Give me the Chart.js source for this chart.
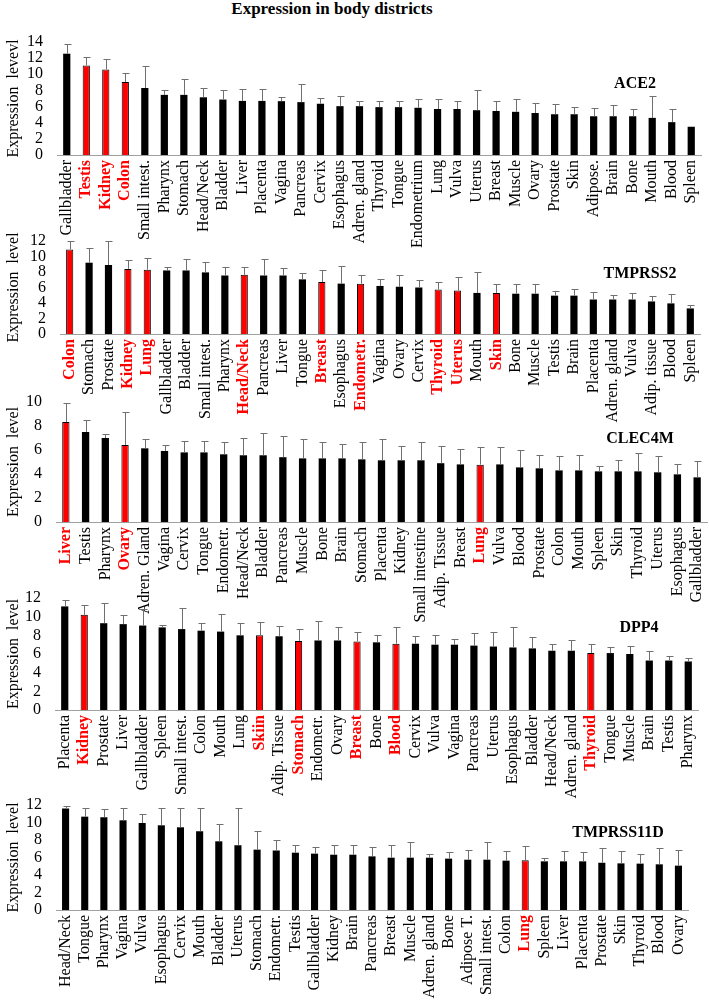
<!DOCTYPE html>
<html>
<head>
<meta charset="utf-8">
<script src="https://cdn.jsdelivr.net/npm/chart.js@4.4.1/dist/chart.umd.min.js"></script>
<style>
body { margin: 0; background: #fff; }
#wrap { position: relative; width: 709px; height: 1000px; font-family: 'Liberation Serif', serif; }
canvas { position: absolute; left: 0; }
.gene { position: absolute; font-weight: bold; font-size: 16px; transform: translate(-50%, -50%); white-space: nowrap; }
#title { position: absolute; left: 332px; top: 9px; font-weight: bold; font-size: 17px; transform: translate(-50%, -50%); white-space: nowrap; }
</style>
</head>
<body>
<div id="wrap">
  <div id="title">Expression in body districts</div>
</div>
<script>
// ACE2
const ace2Labels = ['Gallbladder', 'Testis', 'Kidney', 'Colon', 'Small intest.', 'Pharynx', 'Stomach', 'Head/Neck', 'Bladder', 'Liver', 'Placenta', 'Vagina', 'Pancreas', 'Cervix', 'Esophagus', 'Adren. gland', 'Thyroid', 'Tongue', 'Endometrium', 'Lung', 'Vulva', 'Uterus', 'Breast', 'Muscle', 'Ovary', 'Prostate', 'Skin', 'Adipose.', 'Brain', 'Bone', 'Mouth', 'Blood', 'Spleen'];
const ace2Values = [12.55, 11.1, 10.6, 9.05, 8.3, 7.45, 7.45, 7.15, 6.87, 6.7, 6.7, 6.67, 6.55, 6.35, 6.05, 6.05, 5.93, 5.93, 5.85, 5.7, 5.7, 5.55, 5.45, 5.35, 5.2, 5.05, 5.05, 4.8, 4.8, 4.8, 4.6, 4.07, 3.5];
const ace2Upper = [13.8, 12.2, 11.85, 10.15, 11.0, 8.0, 9.4, 8.25, 8.0, 8.15, 8.15, 7.15, 8.75, 7.1, 7.3, 6.7, 6.7, 6.7, 6.9, 6.9, 6.7, 8.0, 6.7, 6.9, 6.5, 6.3, 6.0, 5.8, 6.15, 5.7, 7.25, 5.7, null];
const ace2Red = ['Testis', 'Kidney', 'Colon'];

// TMPRSS2
const tmprss2Labels = ['Colon', 'Stomach', 'Prostate', 'Kidney', 'Lung', 'Gallbladder', 'Bladder', 'Small intest.', 'Pharynx', 'Head/Neck', 'Pancreas', 'Liver', 'Tongue', 'Breast', 'Esophagus', 'Endometr.', 'Vagina', 'Ovary', 'Cervix', 'Thyroid', 'Uterus', 'Mouth', 'Skin', 'Bone', 'Muscle', 'Testis', 'Brain', 'Placenta', 'Adren. gland', 'Vulva', 'Adip. tissue', 'Blood', 'Spleen'];
const tmprss2Values = [10.9, 9.2, 8.9, 8.4, 8.3, 8.2, 8.2, 7.95, 7.55, 7.65, 7.55, 7.55, 7.05, 6.7, 6.5, 6.5, 6.2, 6.1, 6.0, 5.75, 5.6, 5.3, 5.3, 5.2, 5.2, 4.95, 4.95, 4.45, 4.45, 4.45, 4.2, 3.95, 3.3];
const tmprss2Upper = [12.0, 11.1, 12.0, 9.55, 9.8, 8.7, 9.7, 9.3, 8.65, 8.65, 9.7, 8.5, 7.9, 8.25, 8.8, 7.6, 7.1, 7.6, 7.0, 6.75, 7.35, 7.95, 6.5, 6.5, 6.5, 5.6, 5.8, 5.45, 5.05, 5.3, 4.9, 5.2, 3.75];
const tmprss2Red = ['Colon', 'Kidney', 'Lung', 'Head/Neck', 'Breast', 'Endometr.', 'Thyroid', 'Uterus', 'Skin'];

// CLEC4M
const clec4mLabels = ['Liver', 'Testis', 'Pharynx', 'Ovary', 'Adren. Gland', 'Vagina', 'Cervix', 'Tongue', 'Endometr.', 'Head/Neck', 'Bladder', 'Pancreas', 'Muscle', 'Bone', 'Brain', 'Stomach', 'Placenta', 'Kidney', 'Small intestine', 'Adip. Tissue', 'Breast', 'Lung', 'Vulva', 'Blood', 'Prostate', 'Colon', 'Mouth', 'Spleen', 'Skin', 'Thyroid', 'Uterus', 'Esophagus', 'Gallbladder'];
const clec4mValues = [8.33, 7.5, 7.0, 6.42, 6.14, 5.92, 5.8, 5.8, 5.64, 5.56, 5.56, 5.4, 5.3, 5.3, 5.3, 5.22, 5.14, 5.14, 5.14, 4.9, 4.8, 4.78, 4.8, 4.55, 4.47, 4.3, 4.3, 4.22, 4.22, 4.22, 4.14, 3.97, 3.72];
const clec4mUpper = [9.9, 8.5, 7.3, 9.2, 6.9, 6.4, 6.72, 6.72, 6.64, 6.97, 7.4, 7.14, 6.9, 6.64, 6.47, 6.64, 6.9, 6.3, 6.64, 6.3, 6.05, 6.22, 6.22, 5.97, 5.56, 5.47, 5.56, 4.64, 5.14, 5.72, 5.47, 4.8, 5.05];
const clec4mRed = ['Liver', 'Ovary', 'Lung'];

// DPP4
const dpp4Labels = ['Placenta', 'Kidney', 'Prostate', 'Liver', 'Gallbladder', 'Spleen', 'Small intest.', 'Colon', 'Mouth', 'Lung', 'Skiin', 'Adip. Tissue', 'Stomach', 'Endometr.', 'Ovary', 'Breast', 'Bone', 'Blood', 'Cervix', 'Vulva', 'Vagina', 'Pancreas', 'Uterus', 'Esophagus', 'Bladder', 'Head/Neck', 'Adren. gland', 'Thyroid', 'Tongue', 'Muscle', 'Brain', 'Testis', 'Pharynx'];
const dpp4Values = [11.1, 10.2, 9.3, 9.2, 9.05, 8.85, 8.67, 8.5, 8.4, 8.0, 8.0, 7.9, 7.4, 7.45, 7.45, 7.35, 7.25, 7.1, 7.1, 7.0, 7.0, 6.9, 6.8, 6.7, 6.6, 6.35, 6.35, 6.1, 6.1, 6.0, 5.3, 5.3, 5.2];
const dpp4Upper = [11.8, 11.2, 11.5, 10.15, 10.8, 9.15, 10.9, 9.3, 10.3, 9.3, 9.4, 9.0, 8.65, 9.5, 8.85, 8.4, 8.05, 8.85, 7.9, 8.0, 7.65, 8.3, 8.4, 8.85, 7.8, 7.1, 7.45, 7.1, 6.8, 6.9, 6.35, 5.8, 5.6];
const dpp4Red = ['Kidney', 'Skiin', 'Stomach', 'Breast', 'Blood', 'Thyroid'];

// TMPRSS11D
const tmprss11dLabels = ['Head/Neck', 'Tongue', 'Pharynx', 'Vagina', 'Vulva', 'Esophagus', 'Cervix', 'Mouth', 'Bladder', 'Uterus', 'Stomach', 'Endometr.', 'Testis', 'Gallbladder', 'Kidney', 'Brain', 'Pancreas', 'Breast', 'Muscle', 'Adren. gland', 'Bone', 'Adipose T.', 'Small intest.', 'Colon', 'Lung', 'Spleen', 'Liver', 'Placenta', 'Prostate', 'Skin', 'Thyroid', 'Blood', 'Ovary'];
const tmprss11dValues = [11.6, 10.67, 10.6, 10.25, 9.94, 9.68, 9.45, 9.0, 7.85, 7.4, 6.9, 6.8, 6.55, 6.44, 6.32, 6.32, 6.13, 5.98, 5.98, 5.98, 5.87, 5.75, 5.75, 5.64, 5.7, 5.56, 5.56, 5.56, 5.4, 5.33, 5.3, 5.22, 5.07];
const tmprss11dUpper = [11.9, 11.7, 11.5, 11.7, 11.0, 11.7, 11.7, 11.7, 9.87, 11.7, 9.07, 7.95, 7.45, 7.24, 7.45, 7.45, 7.24, 7.43, 7.73, 6.44, 6.63, 6.9, 7.8, 6.78, 7.35, 5.98, 6.78, 6.63, 7.05, 6.7, 6.44, 7.05, 6.9];
const tmprss11dRed = ['Lung'];

const FONT = "'Liberation Serif', serif";
const RED = '#ff0000';
const PAD_TOP = 10; // room above the plot for the top tick label

Chart.defaults.font.family = FONT;
Chart.defaults.font.size = 16;
Chart.defaults.color = '#000';

// error bars: one-sided, drawn from bar top up to the upper value
const errorBars = {
    id: 'errorBars',
    afterDatasetsDraw(chart, args, opts) {
        const upper = opts.upper || [];
        const meta = chart.getDatasetMeta(0);
        const yScale = chart.scales.y;
        const ctx = chart.ctx;
        ctx.save();
        ctx.strokeStyle = '#707070';
        ctx.lineWidth = 1;
        meta.data.forEach((bar, i) => {
            if (upper[i] == null) return;
            const yHi = Math.round(yScale.getPixelForValue(upper[i])) + 0.5;
            const x = Math.round(bar.x) + 0.5;
            ctx.beginPath();
            ctx.moveTo(x, bar.y);
            ctx.lineTo(x, yHi);
            ctx.moveTo(x - 3, yHi);
            ctx.lineTo(x + 4, yHi);
            ctx.stroke();
        });
        ctx.restore();
    }
};

const panels = [
    { labels: ace2Labels, values: ace2Values, upper: ace2Upper, red: ace2Red, yMax: 14, top: 42, bottom: 155, left: 57, right: 701, labelH: 110, yTitle: 'Expression  levevl', gene: 'ACE2', gx: 635, gy: 83 },
    { labels: tmprss2Labels, values: tmprss2Values, upper: tmprss2Upper, red: tmprss2Red, yMax: 12, top: 241, bottom: 334, left: 60, right: 700, labelH: 112, yTitle: 'Expression  level', gene: 'TMPRSS2', gx: 640, gy: 273 },
    { labels: clec4mLabels, values: clec4mValues, upper: clec4mUpper, red: clec4mRed, yMax: 10, top: 402, bottom: 522, left: 56, right: 707, labelH: 120, yTitle: 'Expression  level', gene: 'CLEC4M', gx: 640, gy: 438 },
    { labels: dpp4Labels, values: dpp4Values, upper: dpp4Upper, red: dpp4Red, yMax: 12, top: 598, bottom: 710, left: 55, right: 698, labelH: 92, yTitle: 'Expression  level', gene: 'DPP4', gx: 639, gy: 627 },
    { labels: tmprss11dLabels, values: tmprss11dValues, upper: tmprss11dUpper, red: tmprss11dRed, yMax: 12, top: 805, bottom: 910, left: 56, right: 688, labelH: 90, yTitle: 'Expression  level', gene: 'TMPRSS11D', gx: 618, gy: 832 }
];

const wrap = document.getElementById('wrap');

panels.forEach(p => {
    const canvas = document.createElement('canvas');
    const h = PAD_TOP + (p.bottom - p.top) + p.labelH;
    canvas.width = 709;
    canvas.height = h;
    canvas.style.width = '709px';
    canvas.style.height = h + 'px';
    canvas.style.top = (p.top - PAD_TOP) + 'px';
    wrap.appendChild(canvas);

    const gene = document.createElement('div');
    gene.className = 'gene';
    gene.textContent = p.gene;
    gene.style.left = p.gx + 'px';
    gene.style.top = p.gy + 'px';
    wrap.appendChild(gene);

    const isRed = p.labels.map(l => p.red.includes(l));

    new Chart(canvas.getContext('2d'), {
        type: 'bar',
        data: {
            labels: p.labels,
            datasets: [{
                data: p.values,
                backgroundColor: isRed.map(r => r ? RED : '#000'),
                borderColor: '#000',
                borderWidth: isRed.map(r => r ? 1 : 0),
                barPercentage: 0.37,
                categoryPercentage: 1
            }]
        },
        options: {
            responsive: false,
            animation: false,
            devicePixelRatio: 1,
            layout: { padding: { top: PAD_TOP, left: 0, right: 709 - p.right, bottom: 0 } },
            plugins: {
                legend: { display: false },
                tooltip: { enabled: false },
                errorBars: { upper: p.upper }
            },
            scales: {
                x: {
                    grid: { display: false, drawTicks: false },
                    border: { display: true, color: '#a0a0a0' },
                    ticks: {
                        autoSkip: false,
                        minRotation: 90,
                        maxRotation: 90,
                        padding: 5,
                        color: ctx => isRed[ctx.index] ? RED : '#000',
                        font: ctx => ({ family: FONT, size: 16, weight: isRed[ctx.index] ? 'bold' : 'normal' })
                    },
                    afterFit: scale => {
                        scale.height = p.labelH;
                        scale.paddingLeft = 0;
                        scale.paddingRight = 0;
                    }
                },
                y: {
                    min: 0,
                    max: p.yMax,
                    grid: { display: false, drawTicks: false },
                    border: { display: false },
                    ticks: { autoSkip: false, stepSize: 2, padding: 14, color: '#000', font: { family: FONT, size: 16 } },
                    title: { display: true, text: p.yTitle, color: '#000', font: { family: FONT, size: 16 }, padding: { top: 4, bottom: 0 } },
                    afterFit: scale => {
                        scale.width = p.left;
                        scale.paddingTop = 0;
                        scale.paddingBottom = 0;
                    }
                }
            }
        },
        plugins: [errorBars]
    });
});
</script>
</body>
</html>
